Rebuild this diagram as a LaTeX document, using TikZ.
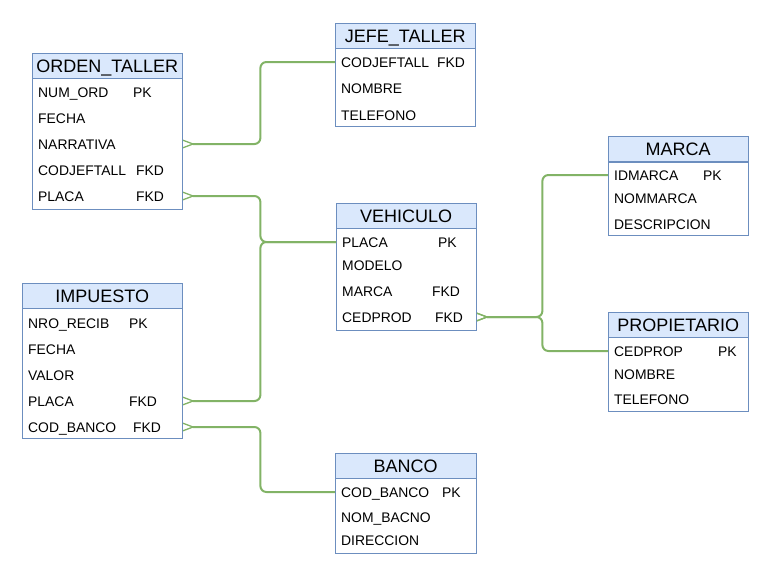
\documentclass[tikz,border=0pt]{standalone}
\usepackage{fontspec}
\setmainfont{Liberation Sans}
\usetikzlibrary{arrows.meta}

\definecolor{headblue}{HTML}{DAE8FC}
\definecolor{edgeblue}{HTML}{6C8EBF}
\definecolor{relgreen}{HTML}{82B366}

\tikzset{
  head/.style={draw=edgeblue, fill=headblue, anchor=north west, minimum width=#1,
    minimum height=25pt, inner sep=0pt, text height=12.9pt, text depth=0pt,
    font=\fontsize{18}{20}\selectfont},
  field/.style={anchor=west, inner xsep=6pt, inner ysep=0pt, text width=#1, align=left,
    text height=10pt, text depth=0pt, font=\fontsize{13.9}{15}\selectfont},
  body/.style={draw=edgeblue, fill=white},
  rel/.style={draw=relgreen, line width=2pt, rounded corners=6pt},
  many/.style={rel, {Straight Barb[reversed, length=10pt, width=7.5pt, line width=1.3pt]}-}
}

\begin{document}
\begin{tikzpicture}[x=1pt, y=-1pt]

    \useasboundingbox (0,0) rectangle (771,579);

    % ORDEN_TALLER
    \draw[body] (32,78) rectangle (182,209);
    \node[head=150pt] (orden) at (32,53) {ORDEN\_TALLER};
    \node[field=138pt] (otNum) at (32,92) {\makebox[95pt][l]{NUM\_ORD}PK};
    \node[field=138pt] (otFecha) at (32,118) {FECHA};
    \node[field=138pt] (otNarr) at (32,144) {NARRATIVA};
    \node[field=138pt] (otCod) at (32,170) {\makebox[98pt][l]{CODJEFTALL}FKD};
    \node[field=138pt] (otPlaca) at (32,196) {\makebox[98pt][l]{PLACA}FKD};

    % JEFE_TALLER
    \draw[body] (335,48) rectangle (475,126);
    \node[head=140pt] (jefe) at (335,23) {JEFE\_TALLER};
    \node[field=128pt] (jtCod) at (335,62) {\makebox[96pt][l]{CODJEFTALL}FKD};
    \node[field=128pt] (jtNom) at (335,88) {NOMBRE};
    \node[field=128pt] (jtTel) at (335,115) {TELEFONO};

    % VEHICULO
    \draw[body] (336,228) rectangle (476,330);
    \node[head=140pt] (vehiculo) at (336,203) {VEHICULO};
    \node[field=128pt] (vhPlaca) at (336,242) {\makebox[96pt][l]{PLACA}PK};
    \node[field=128pt] (vhModelo) at (336,265) {MODELO};
    \node[field=128pt] (vhMarca) at (336,291) {\makebox[90pt][l]{MARCA}FKD};
    \node[field=128pt] (vhCed) at (336,317) {\makebox[93pt][l]{CEDPROD}FKD};

    % MARCA
    \draw[body] (608,162) rectangle (748,235);
    \node[head=140pt] (marca) at (608,136) {MARCA};
    \node[field=128pt] (mcId) at (608,175) {\makebox[89pt][l]{IDMARCA}PK};
    \node[field=128pt] (mcNom) at (608,198) {NOMMARCA};
    \node[field=128pt] (mcDesc) at (608,224) {DESCRIPCION};

    % PROPIETARIO
    \draw[body] (608,337) rectangle (748,411);
    \node[head=140pt] (propietario) at (608,312) {PROPIETARIO};
    \node[field=128pt] (prCed) at (608,351) {\makebox[104pt][l]{CEDPROP}PK};
    \node[field=128pt] (prNom) at (608,374) {NOMBRE};
    \node[field=128pt] (prTel) at (608,399) {TELEFONO};

    % IMPUESTO
    \draw[body] (22,308) rectangle (182,438);
    \node[head=160pt] (impuesto) at (22,283) {IMPUESTO};
    \node[field=148pt] (imRecib) at (22,323) {\makebox[101pt][l]{NRO\_RECIB}PK};
    \node[field=148pt] (imFecha) at (22,349) {FECHA};
    \node[field=148pt] (imValor) at (22,375) {VALOR};
    \node[field=148pt] (imPlaca) at (22,401) {\makebox[101pt][l]{PLACA}FKD};
    \node[field=148pt] (imBanco) at (22,427) {\makebox[105pt][l]{COD\_BANCO}FKD};

    % BANCO
    \draw[body] (335,478) rectangle (476,553);
    \node[head=141pt] (banco) at (335,453) {BANCO};
    \node[field=129pt] (bcCod) at (335,492) {\makebox[101pt][l]{COD\_BANCO}PK};
    \node[field=129pt] (bcNom) at (335,517) {NOM\_BACNO};
    \node[field=129pt] (bcDir) at (335,540) {DIRECCION};

    % relaciones
    \draw[many] (otNarr.east) -- ++(78,0) |- (jtCod.west);
    \draw[many] (otPlaca.east) -- ++(78,0) |- (vhPlaca.west);
    \draw[many] (imPlaca.east) -- ++(78,0) |- (vhPlaca.west);
    \draw[many] (imBanco.east) -- ++(78,0) |- (bcCod.west);
    \draw[many] (vhCed.east) -- ++(66,0) |- (mcId.west);
    \draw[many] (vhCed.east) -- ++(66,0) |- (prCed.west);

\end{tikzpicture}
\end{document}
